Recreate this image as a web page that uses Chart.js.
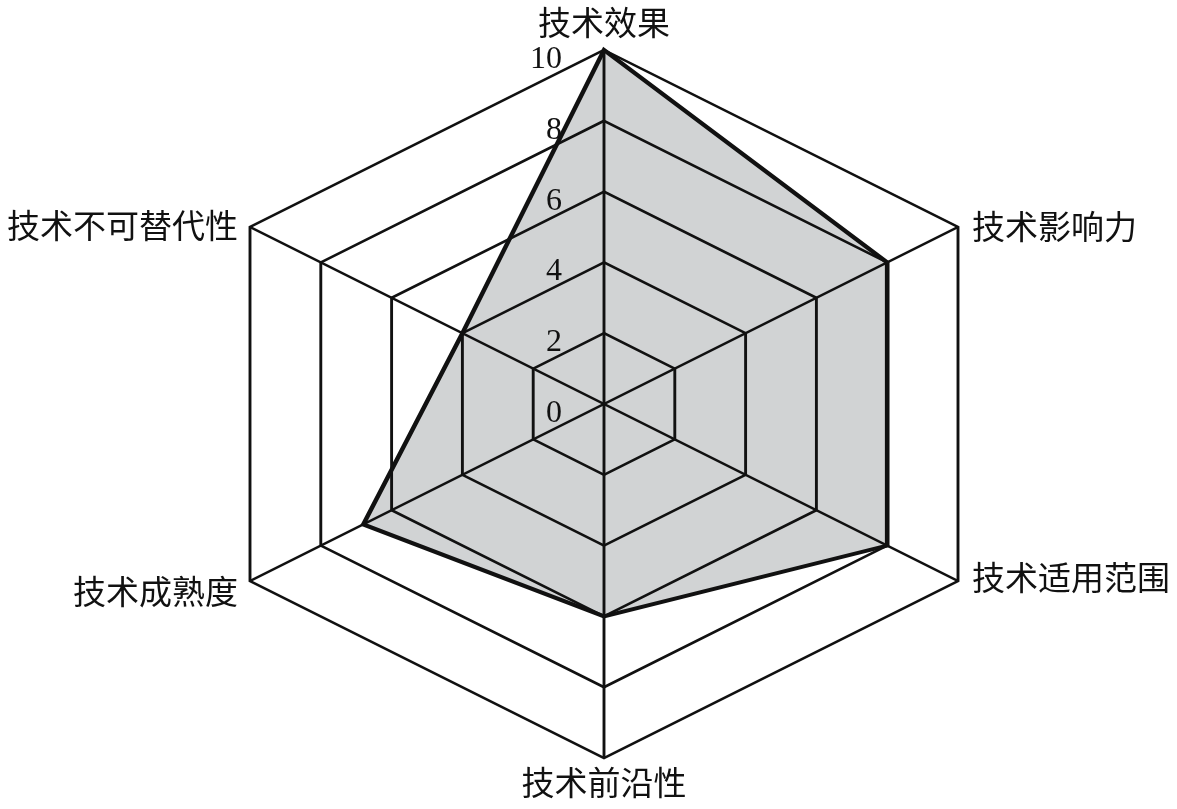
<!DOCTYPE html>
<html lang="zh">
<head>
<meta charset="UTF-8">
<title>技术评价雷达图</title>
<script src="https://cdn.jsdelivr.net/npm/chart.js"></script>
<style>
  html, body { margin: 0; padding: 0; background: #fff; }
  .chart-box { width: 1177px; height: 809px; position: relative; }
</style>
</head>
<body>
<div class="chart-box"><canvas id="radar"></canvas></div>
<script>
const categories = ['技术效果', '技术影响力', '技术适用范围', '技术前沿性', '技术成熟度', '技术不可替代性'];
const scores = [10, 8, 8, 6, 6.8, 4];
const tickValues = [0, 2, 4, 6, 8, 10];

// the original hexagon is wider than a regular one
const STRETCH = 2 / Math.sqrt(3);
// label offsets from each outer vertex (after stretching)
const labelNudge = [[0, -28], [14, -1], [14, -4], [0, 24], [-12, 10], [-12, -2]];

const stretchPlugin = {
    id: 'stretch',
    beforeDraw(chart) {
        const s = chart.scales.r;
        const ctx = chart.ctx;
        ctx.save();
        ctx.translate(s.xCenter, 0);
        ctx.scale(STRETCH, 1);
        ctx.translate(-s.xCenter, 0);
    },
    afterDraw(chart) {
        const s = chart.scales.r;
        const ctx = chart.ctx;
        ctx.restore();

        ctx.save();
        ctx.fillStyle = '#111';

        // axis names
        ctx.font = '33px "Noto Sans CJK SC", sans-serif';
        ctx.textBaseline = 'middle';
        categories.forEach((name, i) => {
            const p = s.getPointPosition(i, s.drawingArea);
            const x = s.xCenter + (p.x - s.xCenter) * STRETCH;
            const dx = labelNudge[i][0], dy = labelNudge[i][1];
            ctx.textAlign = dx === 0 ? 'center' : (dx > 0 ? 'left' : 'right');
            ctx.fillText(name, x + dx, p.y + dy);
        });

        // value ticks, left of the vertical axis
        ctx.font = '32px "Liberation Serif", "Times New Roman", serif';
        ctx.textAlign = 'right';
        ctx.textBaseline = 'alphabetic';
        tickValues.forEach(v => {
            const y = s.yCenter - s.getDistanceFromCenterForValue(v);
            ctx.fillText(String(v), s.xCenter - 42, y + 18);
        });
        ctx.restore();
    }
};

new Chart(document.getElementById('radar'), {
    type: 'radar',
    data: {
        labels: categories,
        datasets: [{
            data: scores,
            borderColor: '#111',
            borderWidth: 4,
            backgroundColor: '#d1d3d4',
            fill: true,
            pointRadius: 0,
            tension: 0
        }]
    },
    options: {
        responsive: true,
        maintainAspectRatio: false,
        animation: false,
        layout: { padding: { top: 50, bottom: 50, left: 204, right: 173 } },
        plugins: {
            legend: { display: false },
            tooltip: { enabled: false }
        },
        scales: {
            r: {
                min: 0,
                max: 10,
                ticks: { stepSize: 2, display: false },
                pointLabels: { display: false },
                grid: { color: '#111', lineWidth: 2.5, z: 1 },
                angleLines: { color: '#111', lineWidth: 2.5 }
            }
        }
    },
    plugins: [stretchPlugin]
});
</script>
</body>
</html>
